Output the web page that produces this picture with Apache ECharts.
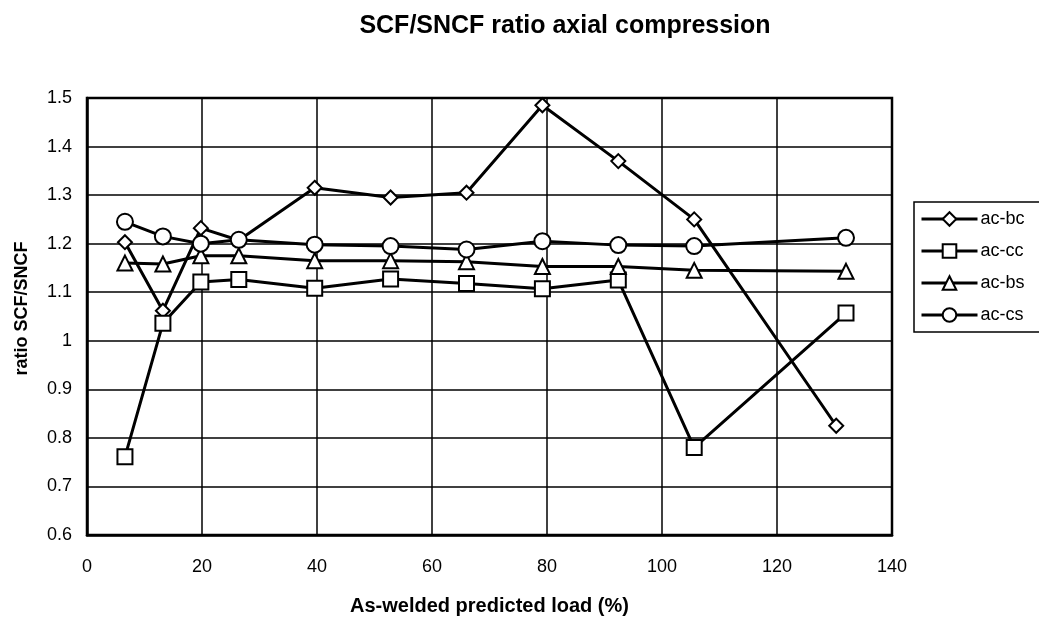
<!DOCTYPE html>
<html>
<head>
<meta charset="utf-8">
<script src="https://cdn.jsdelivr.net/npm/echarts@6/dist/echarts.min.js"></script>
<style>html,body{margin:0;padding:0;background:#fff}#c{width:1039px;height:624px}</style>
</head>
<body>
<div id="c"></div>
<script>
const xLoad = [6.6, 13.2, 19.8, 26.4, 39.6, 52.8, 66, 79.2, 92.4, 105.6, 132];
const xLoadBc = [6.6, 13.2, 19.8, 26.4, 39.6, 52.8, 66, 79.2, 92.4, 105.6, 130.3];
const acBc = [1.203, 1.062, 1.232, 1.207, 1.315, 1.295, 1.305, 1.485, 1.37, 1.25, 0.825];
const acCc = [0.761, 1.036, 1.121, 1.126, 1.108, 1.127, 1.118, 1.107, 1.125, 0.78, 1.057];
const acBs = [1.16, 1.158, 1.175, 1.175, 1.165, 1.165, 1.163, 1.153, 1.153, 1.145, 1.143];
const acCs = [1.245, 1.215, 1.2, 1.208, 1.198, 1.195, 1.188, 1.205, 1.197, 1.195, 1.212];
const seriesNames = ['ac-bc', 'ac-cc', 'ac-bs', 'ac-cs'];
const xTicks = {min: 0, max: 140, interval: 20};
const yTicks = {min: 0.6, max: 1.5, interval: 0.1};

function pairs(xs, ys) { return xs.map((x, i) => [x, ys[i]]); }

const font = 'Liberation Sans, Arial, sans-serif';
const symbols = ['emptyDiamond', 'emptyRect', 'emptyTriangle', 'emptyCircle'];
const sizes = [14, 15, 15, 16];
const datas = [pairs(xLoadBc, acBc), pairs(xLoad, acCc), pairs(xLoad, acBs), pairs(xLoad, acCs)];

const chart = echarts.init(document.getElementById('c'), null, {renderer: 'canvas'});
chart.setOption({
  animation: false,
  backgroundColor: '#fff',
  title: {
    text: 'SCF/SNCF ratio axial compression',
    left: 560, top: 9, textAlign: 'center',
    textStyle: {fontFamily: font, fontSize: 25, fontWeight: 'bold', color: '#000'}
  },
  legend: {
    orient: 'vertical', left: 914, top: 202,
    itemWidth: 56, itemHeight: 17, itemGap: 14,
    borderColor: '#000', borderWidth: 1.5, padding: [8, 20, 8, 6],
    lineStyle: {width: 3, color: '#000'},
    itemStyle: {borderWidth: 2.2, borderColor: '#000'},
    textStyle: {fontFamily: font, fontSize: 18, color: '#000', padding: [0, 0, 0, -2]},
    data: seriesNames
  },
  grid: {left: 87, right: 147, top: 98, bottom: 89, show: true, borderColor: '#000', borderWidth: 2.5},
  xAxis: {
    type: 'value', min: xTicks.min, max: xTicks.max, interval: xTicks.interval,
    name: 'As-welded predicted load (%)', nameLocation: 'middle', nameGap: 61,
    nameTextStyle: {fontFamily: font, fontSize: 20, fontWeight: 'bold', color: '#000'},
    axisLine: {lineStyle: {color: '#000', width: 2.5}},
    axisTick: {show: false},
    axisLabel: {fontFamily: font, fontSize: 18, color: '#000', margin: 23},
    splitLine: {show: true, lineStyle: {color: '#000', width: 1.5}}
  },
  yAxis: {
    type: 'value', min: yTicks.min, max: yTicks.max, interval: yTicks.interval,
    name: 'ratio SCF/SNCF', nameLocation: 'middle', nameGap: 56, nameRotate: 90,
    nameTextStyle: {fontFamily: font, fontSize: 18, fontWeight: 'bold', color: '#000', padding: [0, 0, 0, 16]},
    axisLine: {lineStyle: {color: '#000', width: 2.5}},
    axisTick: {show: false},
    axisLabel: {fontFamily: font, fontSize: 18, color: '#000', margin: 15,
      formatter: v => String(Number(v.toFixed(1)))},
    splitLine: {show: true, lineStyle: {color: '#000', width: 1.5}}
  },
  series: seriesNames.map((n, i) => ({
    name: n, type: 'line', data: datas[i],
    symbol: symbols[i], symbolSize: sizes[i],
    lineStyle: {color: '#000', width: 3},
    itemStyle: {color: '#000', borderColor: '#000', borderWidth: 2.2},
    z: 3 + i
  }))
});
</script>
</body>
</html>
